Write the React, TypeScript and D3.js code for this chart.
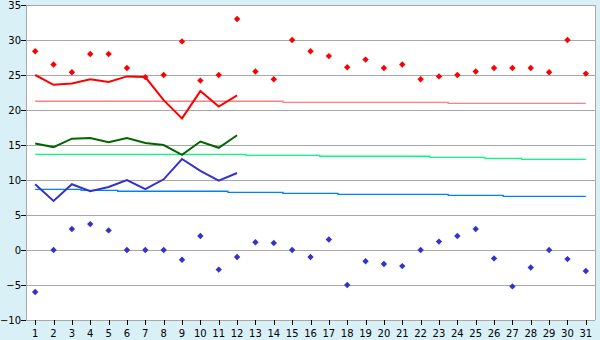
import React from "react";
import * as d3 from "d3";

const days = d3.range(1, 32).map(String);
const yTicks = [-10, -5, 0, 5, 10, 15, 20, 25, 30, 35];

const maxTemps = [28.4, 26.5, 25.4, 28.0, 28.0, 26.0, 24.7, 25.0, 29.8, 24.2, 25.0, 33.0, 25.5, 24.4, 30.0, 28.4, 27.7, 26.1, 27.2, 26.0, 26.5, 24.4, 24.8, 25.0, 25.5, 26.0, 26.0, 26.0, 25.4, 30.0, 25.2];
const minTemps = [-6.0, 0, 3.0, 3.7, 2.8, 0, 0, 0, -1.4, 2.0, -2.8, -1.0, 1.1, 1.0, 0, -1.0, 1.5, -5.0, -1.6, -2.0, -2.3, 0, 1.2, 2.0, 3.0, -1.2, -5.2, -2.5, 0, -1.3, -3.0];

const avgMax = [25.0, 23.6, 23.8, 24.4, 24.0, 24.8, 24.7, 21.4, 18.8, 22.7, 20.5, 22.1];
const avgMean = [15.2, 14.7, 15.9, 16.0, 15.4, 16.0, 15.3, 15.0, 13.6, 15.5, 14.6, 16.4];
const avgMin = [9.4, 7.0, 9.4, 8.4, 9.0, 10.0, 8.7, 10.1, 13.0, 11.3, 9.9, 11.0];

const normMax = [21.25, 21.25, 21.25, 21.25, 21.25, 21.25, 21.25, 21.25, 21.25, 21.25, 21.25, 21.25, 21.25, 21.25, 21.1, 21.1, 21.1, 21.1, 21.1, 21.1, 21.1, 21.1, 21.1, 20.96, 20.96, 20.96, 20.96, 20.96, 20.96, 20.96, 20.96];
const normMean = [13.67, 13.67, 13.67, 13.67, 13.67, 13.67, 13.67, 13.67, 13.67, 13.67, 13.67, 13.67, 13.53, 13.53, 13.53, 13.53, 13.39, 13.39, 13.39, 13.39, 13.39, 13.39, 13.24, 13.24, 13.24, 13.1, 13.1, 12.96, 12.96, 12.96, 12.96];
const normMin = [8.67, 8.67, 8.67, 8.53, 8.53, 8.39, 8.39, 8.39, 8.39, 8.39, 8.39, 8.24, 8.24, 8.24, 8.1, 8.1, 8.1, 7.96, 7.96, 7.96, 7.96, 7.96, 7.96, 7.81, 7.81, 7.81, 7.67, 7.67, 7.67, 7.67, 7.67];

const W = 600, H = 340;
const L = 26, R = 595, T = 5, B = 320;

export default function App() {
  const x = d3.scalePoint<string>().domain(days).range([L, R]).padding(0.5);
  const y = d3.scaleLinear().domain([-10, 35]).range([B, T]);

  const line = (vals: number[], curve: d3.CurveFactory) =>
    d3.line<number>()
      .x((_, i) => x(days[i]) as number)
      .y((v) => y(v))
      .curve(curve)(vals) as string;

  const diamond = "M0,-3.2L3.2,0L0,3.2L-3.2,0Z";
  const grid = "#a8a8a8";

  return (
    <svg width={W} height={H} style={{ position: "absolute", left: 0, top: 0 }} fontFamily="DejaVu Sans, Verdana, sans-serif">
      <rect x={0} y={0} width={W} height={H} fill="#d9f0f7" />
      <rect x={L} y={T} width={R - L} height={B - T} fill="#ffffff" />
      {yTicks.map((t) => (
        <g key={t}>
          <line x1={L} x2={R} y1={Math.round(y(t)) + 0.5} y2={Math.round(y(t)) + 0.5} stroke={grid} strokeWidth={1} shapeRendering="crispEdges" />
          <line x1={L - 5} x2={L} y1={Math.round(y(t)) + 0.5} y2={Math.round(y(t)) + 0.5} stroke="#000" strokeWidth={1} shapeRendering="crispEdges" />
          <text x={L - 5} y={y(t) + 4} textAnchor="end" fontSize={10} fill="#000">{t < 0 ? "\u2212" + Math.abs(t) : t}</text>
        </g>
      ))}
      <line x1={L + 0.5} x2={L + 0.5} y1={T} y2={B} stroke={grid} shapeRendering="crispEdges" />
      <line x1={R + 0.5} x2={R + 0.5} y1={T} y2={B} stroke={grid} shapeRendering="crispEdges" />
      {days.map((d) => (
        <g key={d}>
          <line x1={Math.round(x(d) as number) + 0.5} x2={Math.round(x(d) as number) + 0.5} y1={B} y2={B + 5} stroke="#000" shapeRendering="crispEdges" />
          <text x={x(d)} y={337} textAnchor="middle" fontSize={10} fill="#000">{d}</text>
        </g>
      ))}

      <path d={line(normMax, d3.curveStep)} fill="none" stroke="#ff8080" strokeWidth={1.3} />
      <path d={line(normMean, d3.curveStep)} fill="none" stroke="#00ff80" strokeWidth={1.3} />
      <path d={line(normMin, d3.curveStep)} fill="none" stroke="#0080ff" strokeWidth={1.3} />

      <path d={line(avgMax, d3.curveLinear)} fill="none" stroke="#ff0000" strokeWidth={2} />
      <path d={line(avgMean, d3.curveLinear)} fill="none" stroke="#006600" strokeWidth={2} />
      <path d={line(avgMin, d3.curveLinear)} fill="none" stroke="#3333cc" strokeWidth={2} />

      {maxTemps.map((v, i) => (
        <path key={"mx" + i} d={diamond} transform={`translate(${x(days[i])},${y(v)})`} fill="#ff0000" />
      ))}
      {minTemps.map((v, i) => (
        <path key={"mn" + i} d={diamond} transform={`translate(${x(days[i])},${y(v)})`} fill="#3333cc" />
      ))}
    </svg>
  );
}
